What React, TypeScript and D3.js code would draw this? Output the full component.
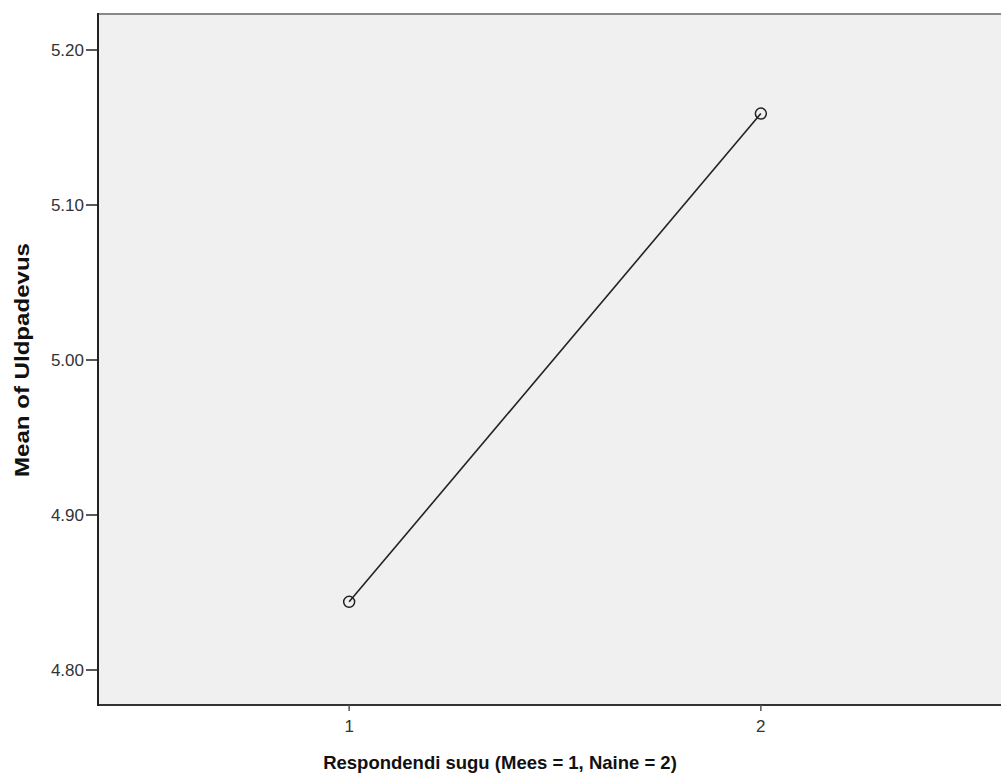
import React from "react";
import * as d3 from "d3";

const categories = [1, 2];
const means = [4.844, 5.159];
const yTicks = [4.8, 4.9, 5.0, 5.1, 5.2];
const xLabel = "Respondendi sugu (Mees = 1, Naine = 2)";
const yLabel = "Mean of Uldpadevus";

export default function App() {
  const W = 1001, H = 776;
  const left = 98, top = 14, bottom = 705, right = 1012;
  const x = d3.scaleLinear().domain([0.39, 2.61]).range([left, right]);
  const y = d3.scaleLinear().domain([4.8, 5.2]).range([670, 50]);
  const pts = categories.map((c, i) => [x(c), y(means[i])] as [number, number]);
  const line = d3.line()(pts) || "";
  const font = "'Liberation Sans', Arial, sans-serif";
  return (
    <svg width={W} height={H} style={{ position: "absolute", left: 0, top: 0 }} fontFamily={font}>
      <rect x={0} y={0} width={W} height={H} fill="#fff" />
      <rect x={left} y={top} width={right - left} height={bottom - top} fill="#f0f0f0" />
      <line x1={left} x2={W} y1={top} y2={top} stroke="#888" strokeWidth={2} />
      <line x1={left} x2={W} y1={bottom} y2={bottom} stroke="#333" strokeWidth={2} />
      <line x1={left} x2={left} y1={top - 1} y2={bottom + 1} stroke="#222" strokeWidth={2} />
      {yTicks.map((t) => (
        <g key={t}>
          <line x1={left - 12} x2={left} y1={y(t)} y2={y(t)} stroke="#222" strokeWidth={1.5} />
          <text x={84} y={y(t)} dy="0.35em" textAnchor="end" fontSize={17} fill="#333">
            {t.toFixed(2)}
          </text>
        </g>
      ))}
      {categories.map((c) => (
        <g key={c}>
          <line x1={x(c)} x2={x(c)} y1={bottom} y2={bottom + 6} stroke="#555" strokeWidth={1.5} />
          <text x={x(c)} y={726} dy="0.35em" textAnchor="middle" fontSize={17} fill="#333">
            {c}
          </text>
        </g>
      ))}
      <path d={line} fill="none" stroke="#222" strokeWidth={1.6} />
      {pts.map((p, i) => (
        <circle key={i} cx={p[0]} cy={p[1]} r={5.5} fill="none" stroke="#222" strokeWidth={1.5} />
      ))}
      <text x={500} y={763} dy="0.35em" textAnchor="middle" fontSize={18.5} fontWeight="bold" fill="#111">
        {xLabel}
      </text>
      <text transform={`translate(22,360) rotate(-90)`} dy="0.35em" textAnchor="middle" fontSize={20.5} fontWeight="bold" fill="#111" textLength={234} lengthAdjust="spacingAndGlyphs">
        {yLabel}
      </text>
    </svg>
  );
}
